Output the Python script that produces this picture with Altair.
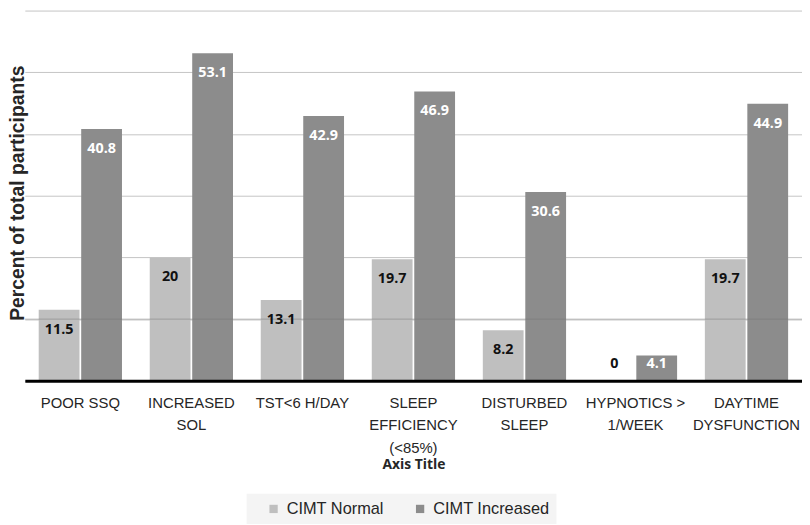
import altair as alt
import pandas as pd

categories = ["POOR SSQ", "INCREASED|SOL", "TST<6 H/DAY", "SLEEP|EFFICIENCY|(<85%)",
              "DISTURBED|SLEEP", "HYPNOTICS >|1/WEEK", "DAYTIME|DYSFUNCTION"]
series = ["CIMT Normal", "CIMT Increased"]
normal = [11.5, 20, 13.1, 19.7, 8.2, 0, 19.7]
increased = [40.8, 53.1, 42.9, 46.9, 30.6, 4.1, 44.9]
grid_values = [0, 10, 20, 30, 40, 50, 60]
overlay_grid = [10]

rows = []
for c, n, i in zip(categories, normal, increased):
    rows.append({"category": c, "series": series[0], "value": n, "label": f"{n:g}"})
    rows.append({"category": c, "series": series[1], "value": i, "label": f"{i:g}"})
df = pd.DataFrame(rows)

x_enc = alt.X("category:N", sort=categories,
              scale=alt.Scale(paddingInner=0.25, paddingOuter=0.125),
              axis=alt.Axis(labelExpr="split(datum.label, '|')", labelAngle=0,
                            labelFont="Liberation Sans", labelFontSize=15,
                            labelColor="#262626", labelLineHeight=22.5,
                            labelPadding=15, labelLimit=0, ticks=False,
                            domainColor="#000000", domainWidth=3, zindex=1,
                            title="Axis Title", titleFont="Open Sans",
                            titleFontSize=14, titleFontWeight="bold",
                            titleColor="#262626", titleBaseline="middle",
                            titleY=85))
xo_enc = alt.XOffset("series:N", sort=series, scale=alt.Scale(paddingInner=0.04))

base = alt.Chart(df).encode(x=x_enc, xOffset=xo_enc)

bars = base.mark_bar().encode(
    y=alt.Y("value:Q", scale=alt.Scale(domain=[0, 60], nice=False),
            axis=alt.Axis(values=grid_values, labels=False, ticks=False, domain=False,
                          grid=True, gridColor="#c4c4c4", gridWidth=1,
                          title="Percent of total participants",
                          titleFont="Liberation Sans", titleFontSize=19.5,
                          titleFontWeight="bold", titleColor="#262626",
                          titleAngle=270, titleBaseline="middle", titleAlign="center",
                          titleX=-7, titleY=184)),
    color=alt.Color("series:N", sort=series,
                    scale=alt.Scale(domain=series, range=["#bfbfbf", "#8c8c8c"]),
                    legend=alt.Legend(title=" ", titleOrient="left", titleFontSize=16,
                                      titlePadding=12,
                                      orient="none", direction="horizontal",
                                      legendX=224, legendY=488,
                                      fillColor="#f4f4f4", padding=7,
                                      symbolType="square", symbolSize=70,
                                      symbolStrokeWidth=0,
                                      labelFont="Liberation Sans", labelFontSize=16.5,
                                      labelColor="#262626", columnPadding=28,
                                      labelOffset=5)),
)

labels = base.transform_calculate(ypos="max(datum.value, 5.94)").mark_text(
    baseline="middle", dy=20, font="Open Sans", fontSize=14.5, fontWeight="bold"
).encode(
    y=alt.Y("ypos:Q"),
    text=alt.Text("label:N"),
    color=alt.condition(alt.datum.series == series[0], alt.value("#111111"), alt.value("#ffffff")),
)

overlay = alt.Chart(pd.DataFrame({"g": overlay_grid})).mark_rule(
    color="#707070", opacity=0.45, strokeWidth=1
).encode(y=alt.Y("g:Q"))

chart = alt.layer(bars, overlay, labels).properties(
    width=785, height=374,
    autosize=alt.AutoSizeParams(type="none"),
    padding={"left": 17, "top": 0, "right": 0, "bottom": 142},
    background="#ffffff",
).configure_view(stroke=None)

chart.save("out.html", embed_options={"renderer": "svg", "actions": False})
